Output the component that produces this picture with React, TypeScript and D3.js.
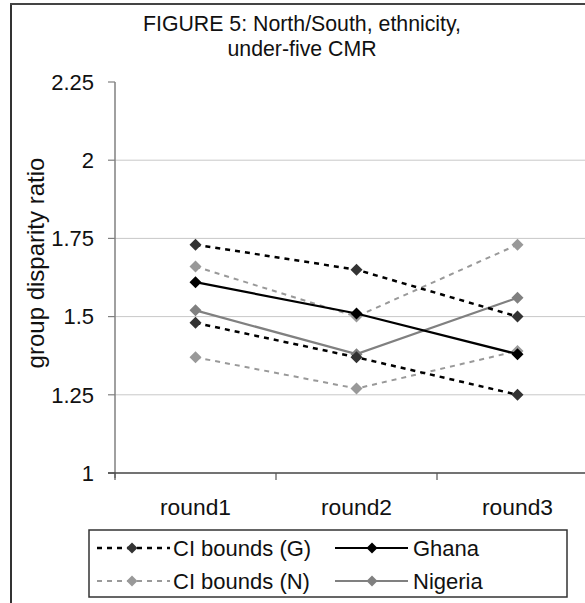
import React from "react";
import * as d3 from "d3";

const rounds = ["round1", "round2", "round3"];
const ghanaUpper = [1.73, 1.65, 1.5];
const ghana = [1.61, 1.51, 1.38];
const ghanaLower = [1.48, 1.37, 1.25];
const nigeriaUpper = [1.66, 1.5, 1.73];
const nigeria = [1.52, 1.38, 1.56];
const nigeriaLower = [1.37, 1.27, 1.39];
const yTicks = [1, 1.25, 1.5, 1.75, 2, 2.25];
const titleLines = ["FIGURE 5: North/South, ethnicity,", "under-five CMR"];
const yLabel = "group disparity ratio";

const FONT = "Liberation Sans, Arial, sans-serif";

type Style = { stroke: string; width: number; dash?: string; marker: string };
const sGUp: Style = { stroke: "#000", width: 2.5, dash: "5,5", marker: "#333" };
const sG: Style = { stroke: "#000", width: 2.2, marker: "#000" };
const sNUp: Style = { stroke: "#999", width: 2, dash: "5,5", marker: "#999" };
const sN: Style = { stroke: "#808080", width: 2.2, marker: "#808080" };

export default function App() {
  const W = 585, H = 603;
  const left = 115, right = 598, top = 82, bottom = 473;
  const x = d3.scaleBand<string>().domain(rounds).range([left, right]);
  const y = d3.scaleLinear().domain([1, 2.25]).range([bottom, top]);
  const cx = (r: string) => (x(r) as number) + x.bandwidth() / 2;
  const line = d3.line<number>().x((_, i) => cx(rounds[i])).y((d) => y(d));
  const diamond = (px: number, py: number, r = 6) =>
    `M${px},${py - r}L${px + r},${py}L${px},${py + r}L${px - r},${py}Z`;

  const series: [number[], Style][] = [
    [nigeriaLower, sNUp],
    [nigeriaUpper, sNUp],
    [nigeria, sN],
    [ghanaLower, sGUp],
    [ghanaUpper, sGUp],
    [ghana, sG],
  ];

  const legendItems: [string, Style, number][] = [
    ["CI bounds (G)", sGUp, 548],
    ["Ghana", sG, 548],
    ["CI bounds (N)", sNUp, 581],
    ["Nigeria", sN, 581],
  ];

  return (
    <svg
      width={W}
      height={H}
      style={{ position: "absolute", left: 0, top: 0, background: "#fff" }}
      fontFamily={FONT}
    >
      <rect x={0} y={0} width={W} height={H} fill="#fff" />
      <line x1={11} y1={4} x2={11} y2={H} stroke="#333" strokeWidth={2} />
      <line x1={10} y1={4} x2={W} y2={4} stroke="#444" strokeWidth={2} />
      {titleLines.map((t, i) => (
        <text key={i} x={302} y={31 + i * 25} textAnchor="middle" fontSize={21.3} fill="#111">
          {t}
        </text>
      ))}
      {yTicks.slice(1, 5).map((t) => (
        <line key={t} x1={left} x2={W} y1={y(t)} y2={y(t)} stroke="#c8c8c8" strokeWidth={1} />
      ))}
      <line x1={left} x2={left} y1={top} y2={bottom + 5} stroke="#808080" strokeWidth={1.5} />
      {yTicks.map((t) => (
        <g key={t}>
          <line x1={left - 7} x2={left} y1={y(t)} y2={y(t)} stroke="#808080" strokeWidth={1.2} />
          <text x={94} y={y(t)} dy="0.35em" textAnchor="end" fontSize={22} fill="#111">
            {t}
          </text>
        </g>
      ))}
      <line x1={left - 7} x2={W} y1={bottom} y2={bottom} stroke="#444" strokeWidth={1.5} />
      {[...rounds.map((r) => x(r) as number), right].map((tx, i) => (
        <line key={i} x1={tx} x2={tx} y1={bottom} y2={bottom + 7} stroke="#555" strokeWidth={1.2} />
      ))}
      {rounds.map((r) => (
        <text key={r} x={cx(r)} y={515} textAnchor="middle" fontSize={22.8} fill="#111">
          {r}
        </text>
      ))}
      <text
        transform={`translate(44,263) rotate(-90)`}
        textAnchor="middle"
        fontSize={24}
        fill="#111"
      >
        {yLabel}
      </text>
      {series.map(([vals, s], k) => (
        <g key={k}>
          <path d={line(vals) as string} fill="none" stroke={s.stroke} strokeWidth={s.width} strokeDasharray={s.dash} />
          {vals.map((v, i) => (
            <path key={i} d={diamond(cx(rounds[i]), y(v))} fill={s.marker} />
          ))}
        </g>
      ))}
      <rect x={89} y={530} width={478} height={67} fill="#fff" stroke="#333" strokeWidth={1.5} />
      {legendItems.map(([label, s, ly]) => {
        const isCI = !!s.dash;
        const x1 = isCI ? 97 : 335, x2 = isCI ? 170 : 408, mx = isCI ? 132 : 372;
        return (
          <g key={label}>
            <line x1={x1} x2={x2} y1={ly} y2={ly} stroke={s.stroke} strokeWidth={s.width} strokeDasharray={s.dash} />
            <path d={diamond(mx, ly, 5.5)} fill={s.marker} />
            <text x={isCI ? 173 : 413} y={ly} dy="0.35em" fontSize={22} fill="#111">
              {label}
            </text>
          </g>
        );
      })}
    </svg>
  );
}
